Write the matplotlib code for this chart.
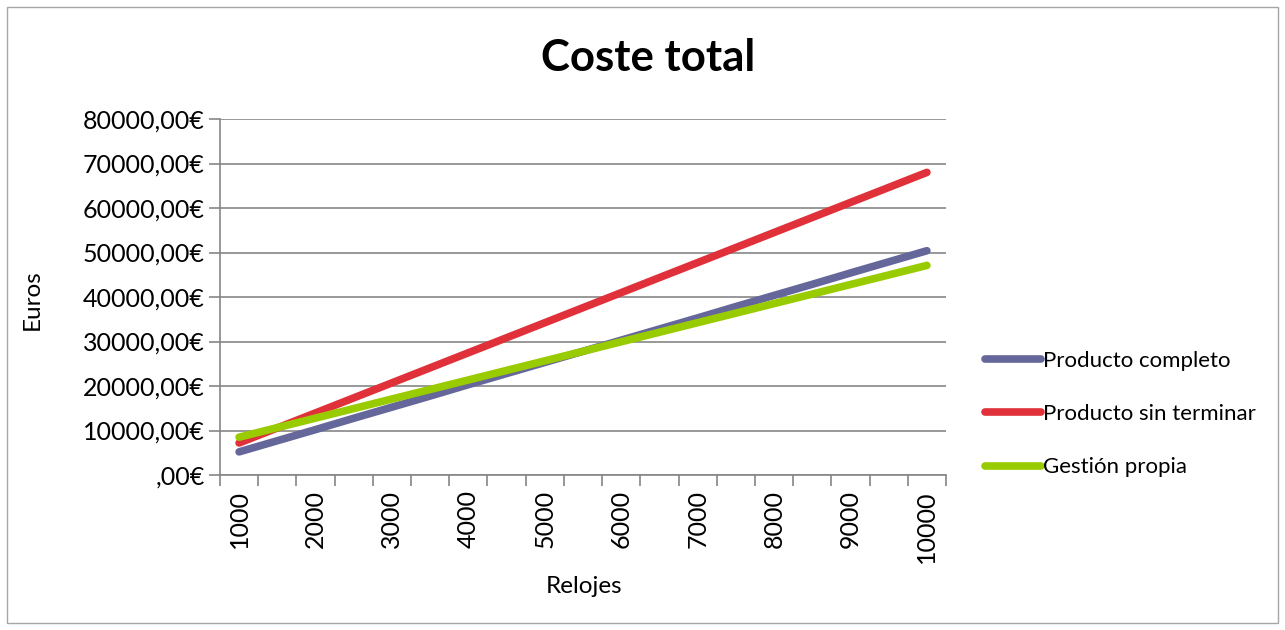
import matplotlib
matplotlib.use('Agg')
import matplotlib.pyplot as plt
from matplotlib.patches import Rectangle

plt.rcParams['font.family'] = ['Lato', 'DejaVu Sans']

# datos
relojes = [1000, 1500, 2000, 2500, 3000, 3500, 4000, 4500, 5000, 5500,
           6000, 6500, 7000, 7500, 8000, 8500, 9000, 9500, 10000]
completo = [5200, 7700, 10200, 12750, 15250, 17750, 20300, 22800, 25300, 27800,
            30300, 32800, 35300, 37850, 40350, 42850, 45400, 47900, 50400]
sin_terminar = [7200, 10580, 13950, 17330, 20710, 24090, 27470, 30840, 34220, 37600,
                40980, 44360, 47730, 51110, 54490, 57870, 61250, 64620, 68000]
gestion = [8500, 10640, 12790, 14930, 17080, 19220, 21360, 23510, 25650, 27800,
           29940, 32080, 34230, 36370, 38520, 40660, 42810, 44950, 47100]
yticks = [0, 10000, 20000, 30000, 40000, 50000, 60000, 70000, 80000]
ylabels = [',00€', '10000,00€', '20000,00€', '30000,00€', '40000,00€',
           '50000,00€', '60000,00€', '70000,00€', '80000,00€']

fig = plt.figure(figsize=(12.85, 6.3), dpi=100)
fig.patches.append(Rectangle((7/1285, 7/630), 1271/1285, 616/630, transform=fig.transFigure,
                             fill=False, edgecolor='#a6a6a6', linewidth=1))
ax = fig.add_axes([220/1285, 155/630, 726/1285, 356/630])

pos = list(range(len(relojes)))
ax.plot(pos, completo, color='#65679a', lw=5.5, solid_capstyle='round', label='Producto completo')
ax.plot(pos, sin_terminar, color='#e0303a', lw=5.5, solid_capstyle='round', label='Producto sin terminar')
ax.plot(pos, gestion, color='#99cc00', lw=5.5, solid_capstyle='round', label='Gestión propia')

ax.set_xlim(-0.5, len(relojes) - 0.5)
ax.set_ylim(0, 80000)
ax.set_yticks(yticks)
ax.set_yticklabels(ylabels, fontsize=18)
ax.set_xticks(pos[::2])
ax.set_xticklabels([str(r) for r in relojes[::2]], rotation=90, fontsize=18)
ax.set_xticks([p - 0.5 for p in pos] + [pos[-1] + 0.5], minor=True)
ax.tick_params(axis='x', which='major', length=0, pad=11)
ax.tick_params(axis='x', which='minor', length=8, color='#868686', width=1.2, direction='out')
ax.tick_params(axis='y', length=8, color='#868686', width=1.2, direction='out', pad=3)

ax.grid(axis='y', color='#868686', lw=1.2)
ax.set_axisbelow(True)
for s in ['top', 'right']:
    ax.spines[s].set_visible(False)
for s in ['left', 'bottom']:
    ax.spines[s].set_color('#868686')
    ax.spines[s].set_linewidth(1.2)

fig.text(648/1285, 1 - 58/630, 'Coste total', fontsize=31.5, fontweight='bold',
         ha='center', va='center')
ax.set_xlabel('Relojes', fontsize=17.5)
ax.xaxis.set_label_coords((584 - 220) / 726, -(576 - 475) / 356)
ax.set_ylabel('Euros', fontsize=17.5)
ax.yaxis.set_label_coords(-(220 - 43) / 726, (475 - 300) / 356)

fig.legend(loc='center left', bbox_to_anchor=(965/1285, 1 - 414/630), frameon=False,
           fontsize=16, handlelength=2.5, handletextpad=0.1, labelspacing=1.5)

fig.savefig('out.png', dpi=100)
